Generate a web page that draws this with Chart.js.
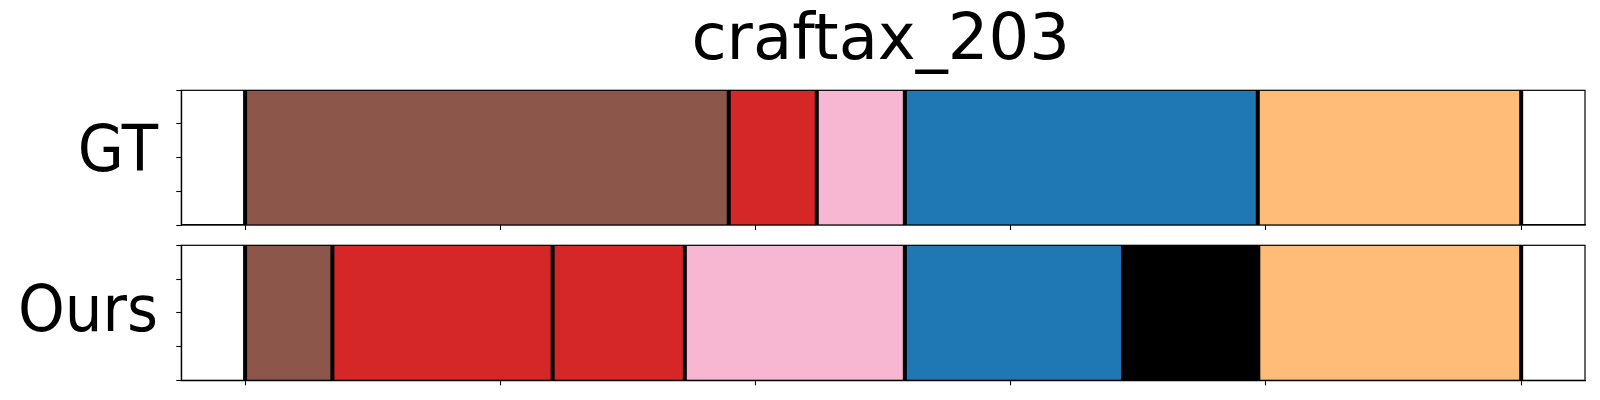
<!DOCTYPE html>
<html>
<head>
<meta charset="utf-8">
<script src="https://cdn.jsdelivr.net/npm/chart.js@4/dist/chart.umd.min.js"></script>
<style>
  html, body { margin: 0; padding: 0; background: #fff; }
  #wrap { position: relative; width: 1600px; height: 400px; overflow: hidden; background: #fff; }
  canvas { position: absolute; left: 0; }
  .rowlabel { position: absolute; font-family: 'DejaVu Sans', sans-serif; font-size: 64px; line-height: 64px; color: #000; text-align: right; width: 158px; left: 0; white-space: nowrap; transform: scaleX(0.93); transform-origin: 100% 50%; }
</style>
</head>
<body>
<div id="wrap">
  <canvas id="c1" width="1600" height="235" style="top:0px;width:1600px;height:235px"></canvas>
  <canvas id="c2" width="1600" height="165" style="top:235px;width:1600px;height:165px"></canvas>
  <div class="rowlabel" id="lab1" style="top:117px"></div>
  <div class="rowlabel" id="lab2" style="top:277px"></div>
</div>
<script>
// ---- data ----
const chartTitle = 'craftax_203';
const rowNames = ['GT', 'Ours'];
const xTickValues = [0, 100, 200, 300, 400, 500];
const yTickValues = [0, 0.25, 0.5, 0.75, 1];
const gtBounds = [0, 189.5, 224, 258.5, 396.8, 500];
const gtClasses = ['brown', 'red', 'pink', 'blue', 'orange'];
const oursBounds = [0, 34.2, 120.5, 172.3, 258.5, 344, 397, 500];
const oursClasses = ['brown', 'red', 'red', 'pink', 'blue', 'black', 'orange'];

// ---- styles ----
const palette = {
  brown: '#8c564b', red: '#d62728', pink: '#f7b6d2',
  blue: '#1f77b4', orange: '#ffbb78', black: '#000000'
};

document.getElementById('lab1').textContent = rowNames[0];
document.getElementById('lab2').textContent = rowNames[1];

function makeDatasets(bounds, classes) {
  return classes.map((cls, i) => ({
    label: cls,
    data: [[bounds[i], bounds[i + 1]]],
    backgroundColor: palette[cls],
    borderWidth: 0,
    grouped: false,
    barPercentage: 1,
    categoryPercentage: 1,
    xAxisID: 'x',
    yAxisID: 'yc'
  }));
}

const boundaryPlugin = {
  id: 'boundaries',
  afterDatasetsDraw(chart, args, opts) {
    const { ctx, chartArea } = chart;
    const xs = chart.scales.x;
    ctx.save();
    ctx.strokeStyle = '#000';
    ctx.lineWidth = 4;
    for (const b of opts.bounds) {
      const px = xs.getPixelForValue(b);
      ctx.beginPath();
      ctx.moveTo(px, chartArea.top);
      ctx.lineTo(px, chartArea.bottom);
      ctx.stroke();
    }
    ctx.lineWidth = 1.2;
    ctx.strokeRect(chartArea.left, chartArea.top, chartArea.right - chartArea.left, chartArea.bottom - chartArea.top);
    ctx.restore();
  }
};

function axisCommon() {
  return {
    offset: false,
    grid: { offset: false, drawOnChartArea: false, drawTicks: true, tickLength: 5, tickColor: '#000', tickWidth: 1.1 },
    border: { display: true, color: '#000', width: 1.2 }
  };
}

const xStep = xTickValues[1] - xTickValues[0];
const xSpan = xTickValues[xTickValues.length - 1] - xTickValues[0];
const yStep = yTickValues[1] - yTickValues[0];

function makeChart(id, rowName, bounds, classes, showTitle, padding) {
  return new Chart(document.getElementById(id), {
    type: 'bar',
    data: { labels: [rowName], datasets: makeDatasets(bounds, classes) },
    plugins: [boundaryPlugin],
    options: {
      indexAxis: 'y',
      responsive: false,
      animation: false,
      devicePixelRatio: 1,
      layout: { padding: padding },
      plugins: {
        legend: { display: false },
        tooltip: { enabled: false },
        boundaries: { bounds: bounds },
        title: {
          display: showTitle,
          text: chartTitle,
          color: '#000',
          font: { family: 'DejaVu Sans', size: 64, weight: 'normal' },
          padding: { top: 4, bottom: 9.5 }
        }
      },
      scales: {
        x: Object.assign({
          type: 'linear', position: 'bottom',
          min: xTickValues[0] - 0.05 * xSpan,
          max: xTickValues[xTickValues.length - 1] + 0.05 * xSpan,
          ticks: { display: false, stepSize: xStep, includeBounds: false }
        }, axisCommon()),
        yc: { type: 'category', display: false, offset: true },
        yt: Object.assign({
          type: 'linear', position: 'left',
          min: yTickValues[0], max: yTickValues[yTickValues.length - 1],
          ticks: { display: false, stepSize: yStep, includeBounds: false }
        }, axisCommon())
      }
    }
  });
}

makeChart('c1', rowNames[0], gtBounds, gtClasses, true, { left: 176.3, right: 15, top: 0, bottom: 5 });
makeChart('c2', rowNames[1], oursBounds, oursClasses, false, { left: 176.3, right: 15, top: 10.3, bottom: 14.7 });
</script>
</body>
</html>
